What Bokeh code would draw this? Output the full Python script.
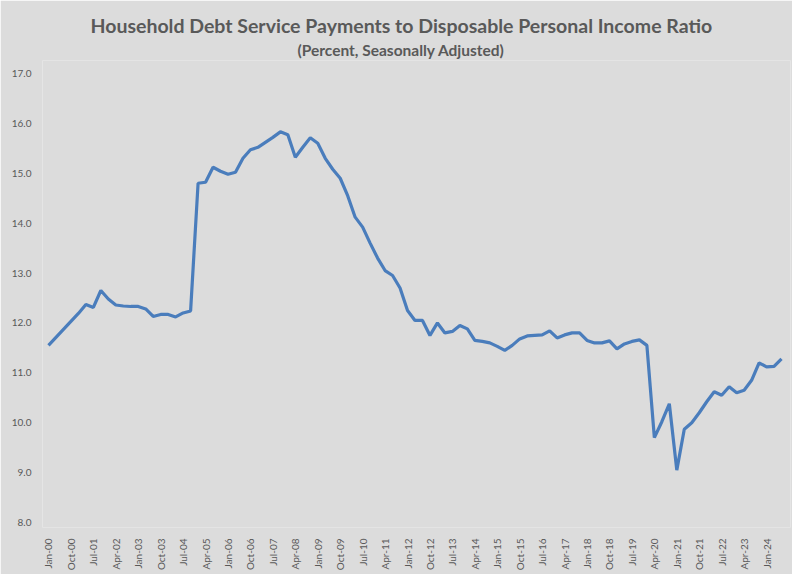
from bokeh.plotting import figure
from bokeh.models import FixedTicker, PrintfTickFormatter, Title, ColumnDataSource, Range1d
from bokeh.embed import file_html
from bokeh.resources import INLINE
import math

# Quarterly data, Q1 2000 .. Q3 2024
values = [
    11.55, 11.71, 11.87, 12.03, 12.19, 12.37, 12.31, 12.65, 12.48, 12.36,
    12.34, 12.33, 12.33, 12.28, 12.13, 12.17, 12.17, 12.12, 12.20, 12.24,
    14.80, 14.82, 15.12, 15.04, 14.98, 15.02, 15.30, 15.47, 15.52, 15.62,
    15.72, 15.83, 15.77, 15.32, 15.52, 15.71, 15.60, 15.30, 15.08, 14.90,
    14.55, 14.12, 13.92, 13.60, 13.30, 13.05, 12.95, 12.70, 12.25, 12.05,
    12.05, 11.75, 12.00, 11.80, 11.83, 11.95, 11.88, 11.65, 11.63, 11.60,
    11.53, 11.45, 11.55, 11.68, 11.74, 11.75, 11.76, 11.84, 11.70, 11.76,
    11.80, 11.80, 11.65, 11.60, 11.60, 11.64, 11.48, 11.58, 11.63, 11.66,
    11.55, 9.70, 10.02, 10.38, 9.05, 9.87, 10.00, 10.20, 10.42, 10.62,
    10.55, 10.72, 10.60, 10.65, 10.85, 11.20, 11.12, 11.13, 11.28,
]
months = ["Jan", "Apr", "Jul", "Oct"]
quarter_labels = [f"{months[i % 4]}-{(i // 4) % 100:02d}" for i in range(len(values))]
tick_idx = list(range(0, len(values), 3))
y_ticks = [8, 9, 10, 11, 12, 13, 14, 15, 16, 17]

title_text = "Household Debt Service Payments to Disposable Personal Income Ratio"
subtitle_text = "(Percent, Seasonally Adjusted)"

bg = "#dcdcdc"
txt = "#595959"
font = "Lato"

src = ColumnDataSource(dict(x=list(range(len(values))), y=values))

p = figure(width=792, height=574, output_backend="svg", toolbar_location=None,
           x_range=Range1d(-0.8, 99.2), y_range=Range1d(7.9, 17.26),
           min_border_left=42, min_border_right=2, min_border_bottom=47,
           min_border_top=60)
p.background_fill_color = bg
p.border_fill_color = bg
p.outline_line_color = None
p.grid.visible = False

p.line("x", "y", source=src, line_color="#4a7dbc", line_width=3.2)

p.yaxis.ticker = FixedTicker(ticks=y_ticks)
p.yaxis.formatter = PrintfTickFormatter(format="%.1f")
p.xaxis.ticker = FixedTicker(ticks=tick_idx)
p.xaxis.major_label_overrides = {i: quarter_labels[i] for i in tick_idx}
p.xaxis.major_label_orientation = math.pi / 2

for ax in (p.xaxis[0], p.yaxis[0]):
    ax.axis_line_color = None
    ax.major_tick_line_color = None
    ax.minor_tick_line_color = None
    ax.major_label_text_color = txt
    ax.major_label_text_font = font
    ax.major_label_text_font_size = "10px"
    ax.major_label_standoff = 5

p.add_layout(Title(text=subtitle_text, align="left", text_font=font,
                   text_font_size="15.5px", text_font_style="bold",
                   text_color=txt, standoff=4, offset=255), "above")
p.add_layout(Title(text=title_text, align="left", text_font=font,
                   text_font_size="19.5px", text_font_style="bold",
                   text_color=txt, standoff=0, offset=48), "above")

open("out.html", "w").write(file_html(p, INLINE))
